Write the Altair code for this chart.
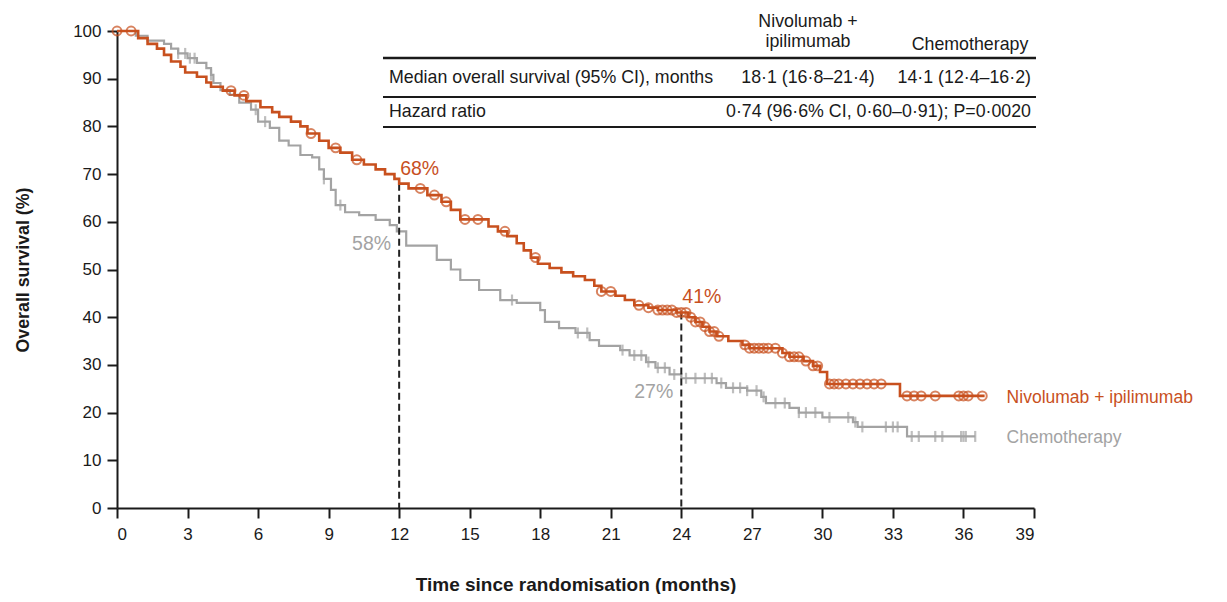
import altair as alt
import pandas as pd

# ---------------- data ----------------
nivo_t = [0, 0.9, 1.3, 1.7, 2.0, 2.3, 2.7, 2.9, 3.4, 3.8, 4.0, 4.5, 5.0, 5.5, 6.1, 6.6, 6.9, 7.4,
          7.8, 8.1, 8.6, 9.0, 9.5, 10.0, 10.5, 11.0, 11.4, 11.8, 12.0, 12.4, 13.2, 13.8, 14.2,
          14.6, 15.8, 16.2, 16.6, 17.0, 17.3, 17.6, 17.9, 18.4, 18.9, 19.4, 19.9, 20.3, 20.6,
          21.2, 21.6, 22.0, 22.6, 23.0, 23.8, 24.3, 24.6, 24.9, 25.2, 25.5, 26.0, 26.6, 26.9,
          28.3, 28.6, 29.2, 29.6, 29.9, 30.2, 33.3, 36.9]
nivo_s = [100, 98.5, 97.3, 96.3, 95, 93.6, 92.5, 91.3, 90.4, 89.2, 88.3, 87.5, 86.5, 85.3, 84,
          83, 82, 81, 80, 78.5, 77, 75.5, 74.5, 73, 72, 71, 70, 69, 68, 67, 65.6, 64.2, 62.5,
          60.5, 59, 58, 57, 55.5, 54, 52.5, 51.2, 50.3, 49.4, 48.6, 47.8, 46.6, 45.4,
          44.5, 43.6, 42.5, 42, 41.5, 41, 40, 39, 38, 37, 36, 35, 34.2, 33.5,
          32.5, 31.7, 30.8, 29.8, 28.5, 26, 23.5, 23.5]
nivo_censor = [0, 0.6, 4.85, 5.4, 8.25, 9.3, 10.2, 12.9, 13.5, 14.0, 14.8, 15.35, 16.5, 17.8,
               20.6, 21.0, 22.2, 22.6, 23.0, 23.2, 23.4, 23.6, 23.8, 24.0, 24.2, 24.4, 24.6,
               24.8, 25.0, 25.2, 25.4, 25.6, 26.7, 26.9, 27.1, 27.3, 27.5, 27.7, 28.0, 28.3,
               28.6, 28.8, 29.0, 29.3, 29.6, 29.8, 30.3, 30.5, 30.7, 31.0, 31.3, 31.6, 31.9,
               32.2, 32.5, 33.6, 33.9, 34.2, 34.8, 35.8, 36.0, 36.2, 36.8]

chemo_t = [0, 0.8, 1.3, 2.0, 2.3, 2.6, 3.0, 3.4, 3.8, 4.0, 4.1, 4.4, 4.8, 5.2, 5.7, 6.0, 6.5,
           6.9, 7.3, 7.8, 8.3, 8.6, 8.8, 9.1, 9.3, 9.7, 10.3, 11.0, 11.6, 11.9, 12.3, 13.6,
           14.2, 14.6, 15.4, 16.3, 17.0, 18.0, 18.2, 18.8, 19.5, 20.1, 20.5, 21.4, 21.8, 22.5,
           22.9, 23.5, 24.0, 25.5, 25.9, 26.8, 27.4, 27.6, 28.6, 29.0, 30.0, 31.3, 31.5, 33.6,
           36.5]
chemo_s = [100, 99, 98, 97.3, 96.3, 95.3, 94.3, 93.3, 92.2, 90.8, 89.1, 87.6, 86.6, 85, 83.5,
           81, 79.7, 77, 76, 74, 73.5, 71, 69, 66.7, 63.5, 62, 61.4, 60.4, 59.3, 58, 55, 52,
           50, 47.8, 45.7, 43.6, 43, 41.5, 39, 37.7, 36.7, 35.2, 34, 33.1, 32, 30.6,
           29.4, 28, 27.2, 26.2, 25.2, 24.6, 23.3, 22, 21, 20, 19, 18, 17, 15,
           15]
chemo_censor = [2.6, 2.9, 3.1, 3.3, 4.0, 5.9, 6.3, 8.8, 9.5, 16.8, 19.6, 20.0, 21.5, 22.0, 22.3,
                22.6, 23.0, 23.3, 23.7, 24.2, 24.6, 25.0, 25.3, 25.7, 26.2, 26.5, 26.8, 27.2,
                27.5, 28.0, 28.4, 29.0, 29.3, 29.7, 30.3, 31.1, 31.4, 31.7, 32.7, 33.0, 33.2,
                33.8, 34.1, 34.8, 35.1, 35.9, 36.0, 36.1, 36.5]

landmark_t = [12, 24]
landmark_nivo = [68, 41]
landmark_chemo = [58, 27]

arm_names = ["Nivolumab + ipilimumab", "Chemotherapy"]

table_header_nivo = ["Nivolumab +", "ipilimumab"]
table_header_chemo = "Chemotherapy"
table_row1 = ["Median overall survival (95% CI), months", "18·1 (16·8–21·4)", "14·1 (12·4–16·2)"]
table_row2 = ["Hazard ratio", "0·74 (96·6% CI, 0·60–0·91); P=0·0020"]


def step_at(ts, ss, t):
    v = ss[0]
    for ti, si in zip(ts, ss):
        if ti <= t:
            v = si
        else:
            break
    return v


ORANGE = "#C8501E"
GRAY = "#A3A3A3"
FONT = "Liberation Sans"

nivo_df = pd.DataFrame({"t": nivo_t, "s": nivo_s})
chemo_df = pd.DataFrame({"t": chemo_t, "s": chemo_s})
nivo_c = pd.DataFrame({"t": nivo_censor, "s": [step_at(nivo_t, nivo_s, t) for t in nivo_censor]})
chemo_c = pd.DataFrame({"t": chemo_censor, "s": [step_at(chemo_t, chemo_s, t) for t in chemo_censor]})
land_df = pd.DataFrame({"t": landmark_t, "nivo": landmark_nivo, "chemo": landmark_chemo})

xs = alt.Scale(domain=[0, 39], nice=False)
ys = alt.Scale(domain=[0, 100], nice=False)

X = alt.X("t:Q", scale=xs, axis=alt.Axis(values=list(range(0, 40, 3)),
                                          title="Time since randomisation (months)",
                                          titlePadding=33, labelPadding=8, titleFontSize=19))
Y = alt.Y("s:Q", scale=ys, axis=alt.Axis(values=list(range(0, 101, 10)),
                                          title="Overall survival (%)", titlePadding=40,
                                          labelPadding=6, titleFontSize=17.8))

base_x = alt.X("t:Q", scale=xs)
base_y = alt.Y("s:Q", scale=ys)

chemo_line = alt.Chart(chemo_df).mark_line(interpolate="step-after", color=GRAY,
                                           strokeWidth=2.2).encode(x=X, y=Y)
nivo_line = alt.Chart(nivo_df).mark_line(interpolate="step-after", color=ORANGE,
                                         strokeWidth=2.6).encode(x=base_x, y=base_y)
chemo_ticks = alt.Chart(chemo_c).mark_tick(orient="vertical", color=GRAY, size=11,
                                           thickness=2.2).encode(x=base_x, y=base_y)
nivo_pts = alt.Chart(nivo_c).mark_point(shape="circle", filled=False, color=ORANGE, size=80,
                                        strokeWidth=2).encode(x=base_x, y=base_y)

dash = alt.Chart(land_df).mark_rule(color="#222222", strokeDash=[7, 4], strokeWidth=2).encode(
    x=alt.X("t:Q", scale=xs), y=alt.Y("nivo:Q", scale=ys), y2=alt.datum(0))

lab_nivo = alt.Chart(land_df).transform_calculate(lbl="datum.nivo + '%'").mark_text(
    color=ORANGE, font=FONT, fontSize=19.5, align="left", dx=1, dy=-15).encode(
    x=alt.X("t:Q", scale=xs), y=alt.Y("nivo:Q", scale=ys), text="lbl:N")
lab_chemo = alt.Chart(land_df).transform_calculate(lbl="datum.chemo + '%'").mark_text(
    color=GRAY, font=FONT, fontSize=19.5, align="right", dx=-8, dy=13).encode(
    x=alt.X("t:Q", scale=xs), y=alt.Y("chemo:Q", scale=ys), text="lbl:N")

end_df = pd.DataFrame({"t": [nivo_t[-1], nivo_t[-1]], "s": [nivo_s[-1], chemo_s[-1]],
                       "arm": arm_names, "c": [ORANGE, GRAY]})
end_lab = alt.Chart(end_df).mark_text(font=FONT, fontSize=17.5, align="left", dx=22, dy=2).encode(
    x=base_x, y=base_y, text="arm:N", color=alt.Color("c:N", scale=None))


# table (pixel positions within plot area)
def txt(s, x, y, align):
    return alt.Chart(pd.DataFrame({"s": [s]})).mark_text(
        font=FONT, fontSize=17.8, align=align, baseline="middle", color="#1a1a1a").encode(
        x=alt.value(x), y=alt.value(y), text="s:N")


def hline(y, w):
    return alt.Chart(pd.DataFrame({"a": [0]})).mark_rule(color="#1a1a1a", strokeWidth=w).encode(
        x=alt.value(266), x2=alt.value(919), y=alt.value(y))


table = [
    txt(table_header_nivo[0], 691, -9, "center"),
    txt(table_header_nivo[1], 691, 11, "center"),
    txt(table_header_chemo, 853, 14, "center"),
    txt(table_row1[0], 272, 47, "left"),
    txt(table_row1[1], 691, 47, "center"),
    txt(table_row1[2], 914, 47, "right"),
    txt(table_row2[0], 272, 81, "left"),
    txt(table_row2[1], 914, 81, "right"),
    hline(27, 2.5), hline(66, 2), hline(96, 2),
]

chart = alt.layer(chemo_line, dash, chemo_ticks, nivo_line, nivo_pts, lab_nivo, lab_chemo,
                  end_lab, *table).properties(
    width=917, height=477, autosize="none",
    padding={"left": 109, "top": 23, "right": 180, "bottom": 86},
).configure_view(stroke=None).configure_axis(
    grid=False, domainColor="#1a1a1a", domainWidth=2, tickColor="#1a1a1a", tickWidth=2,
    tickSize=10, labelFont=FONT, labelFontSize=17, labelColor="#1a1a1a",
    titleFont=FONT, titleFontSize=17, titleFontWeight="bold", titleColor="#1a1a1a",
)

chart.save("out.html", embed_options={"renderer": "svg", "actions": False})
